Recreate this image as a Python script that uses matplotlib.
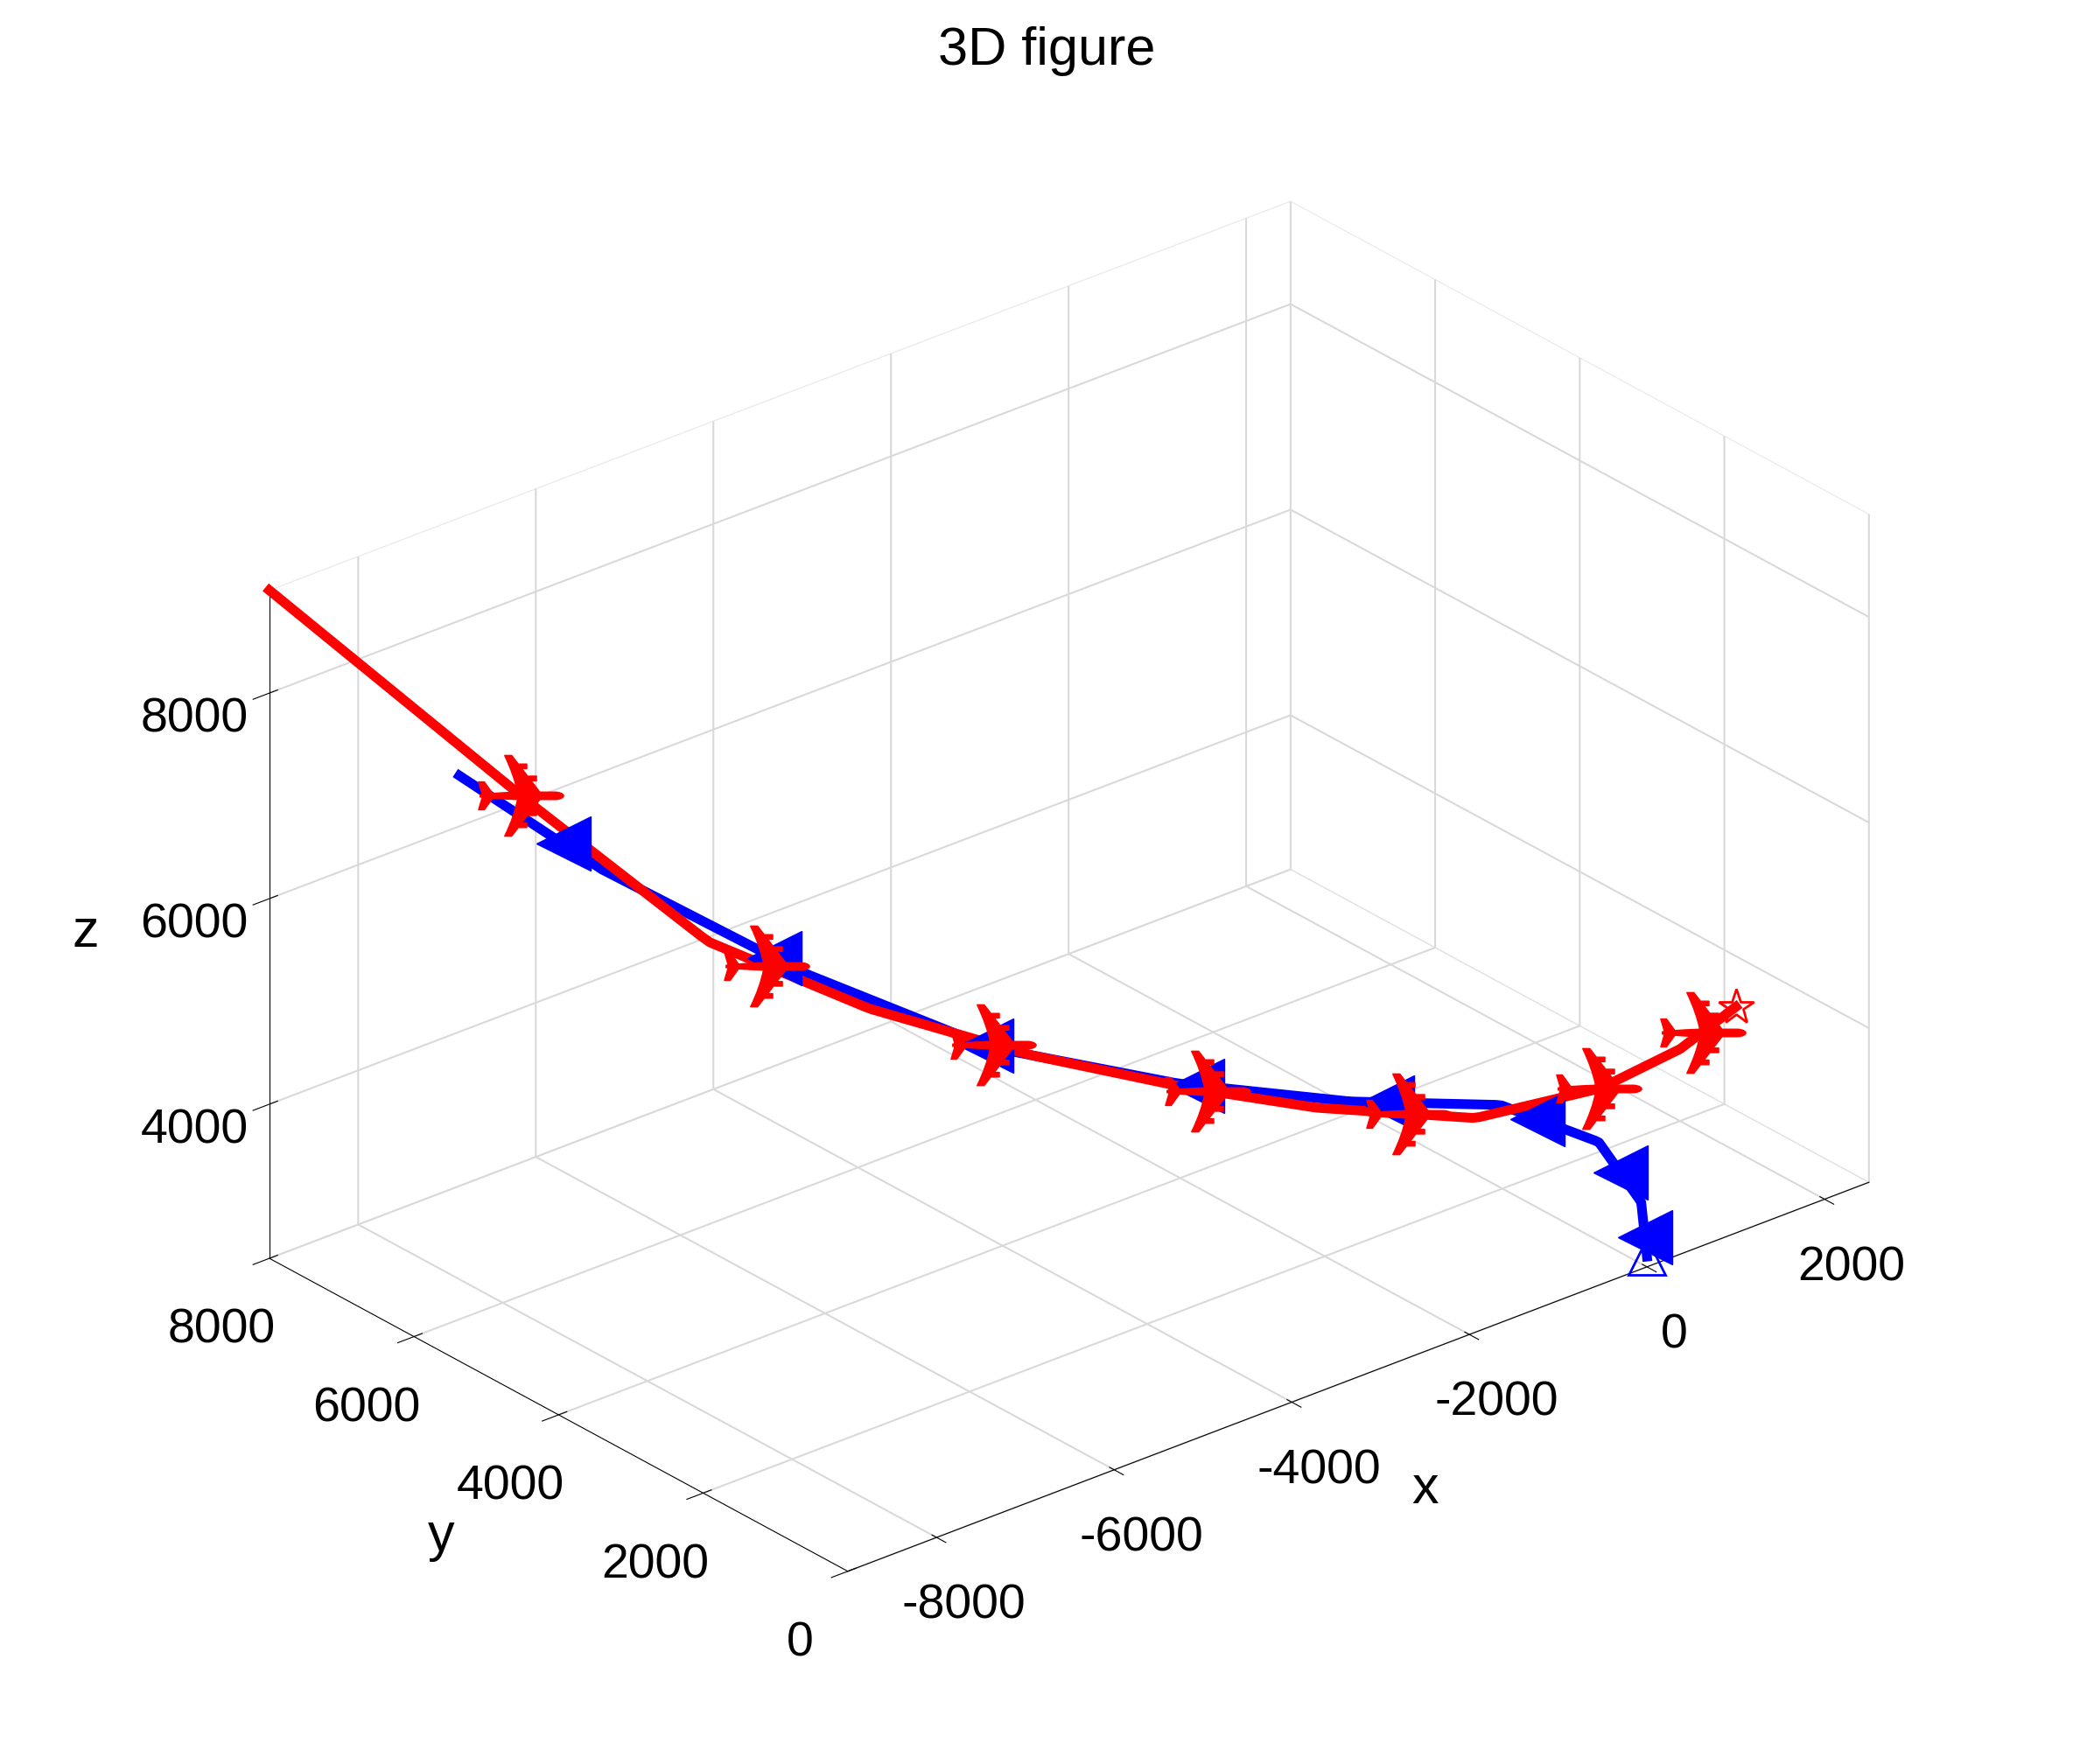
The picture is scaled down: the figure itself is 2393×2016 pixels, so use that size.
import matplotlib
matplotlib.use("Agg")
import matplotlib.pyplot as plt
import numpy as np
plt.rcParams['font.family'] = ['Liberation Sans', 'DejaVu Sans']
plt.rcParams['axes.unicode_minus'] = False

red_x = [1000, 500, -200, -1200, -2500, -3500, -4500, -5500, -6500, -7500, -9000]
red_y = [0, 150, 400, 900, 1500, 2100, 3000, 4000, 5000, 6200, 8000]
red_z = [4700, 4400, 4150, 4000, 4300, 4600, 4900, 5300, 5900, 7100, 9000]
blue_x = [0, 0, -300, -1000, -2200, -3500, -4800, -6000, -7200, -8000]
blue_y = [0, 80, 300, 800, 1400, 2200, 3200, 4300, 5600, 6600]
blue_z = [2600, 3100, 3700, 4100, 4300, 4600, 5000, 5700, 6600, 7400]

fig = plt.figure(figsize=(23.93, 20.16), dpi=100)
ax = fig.add_subplot(111, projection='3d', proj_type='ortho')
ax.set_position([0.0, 0.02, 1.0, 0.93])
ax.set_box_aspect((1.6, 1.08, 0.9), zoom=1.05)

def dense(xs, ys, zs, n=200):
    t = np.linspace(0, 1, len(xs))
    tt = np.linspace(0, 1, n)
    return np.interp(tt, t, xs), np.interp(tt, t, ys), np.interp(tt, t, zs)

rx, ry, rz = dense(red_x, red_y, red_z)
bx, by, bz = dense(blue_x, blue_y, blue_z)
ax.plot(bx, by, bz, color='blue', lw=8)
ax.plot(rx, ry, rz, color='red', lw=8)
ax.plot(bx[8::25], by[8::25], bz[8::25], ls='none', marker='<', ms=45, color='blue')
ax.plot(rx[12::28], ry[12::28], rz[12::28], ls='none', marker='$\u2708$', ms=70, color='red')
ax.plot([red_x[0]], [red_y[0]], [red_z[0]], marker='*', ms=30, color='red', mfc='none', mew=2)
ax.plot([blue_x[0]], [blue_y[0]], [blue_z[0]], marker='^', ms=30, color='blue', mfc='none', mew=2)

ax.set_xlim(-9000, 2500)
ax.set_ylim(0, 8000)
ax.set_zlim(2500, 9000)
ax.set_xticks([-8000, -6000, -4000, -2000, 0, 2000])
ax.set_yticks([0, 2000, 4000, 6000, 8000])
ax.set_zticks([4000, 6000, 8000])
ax.view_init(elev=27, azim=-130)
for a in (ax.xaxis, ax.yaxis, ax.zaxis):
    a.pane.fill = False
    a.pane.set_edgecolor((0.85, 0.85, 0.85))
    a._axinfo['grid']['color'] = (0.85, 0.85, 0.85)
    a._axinfo['grid']['linewidth'] = 1.5
ax.tick_params(labelsize=40, pad=25)
ax.set_xlabel('x', fontsize=44, labelpad=60)
ax.set_ylabel('y', fontsize=44, labelpad=60)
ax.set_zlabel('z', fontsize=44, labelpad=60)
fig.suptitle('3D figure', fontsize=44, y=0.985)
fig.savefig('out.png')
